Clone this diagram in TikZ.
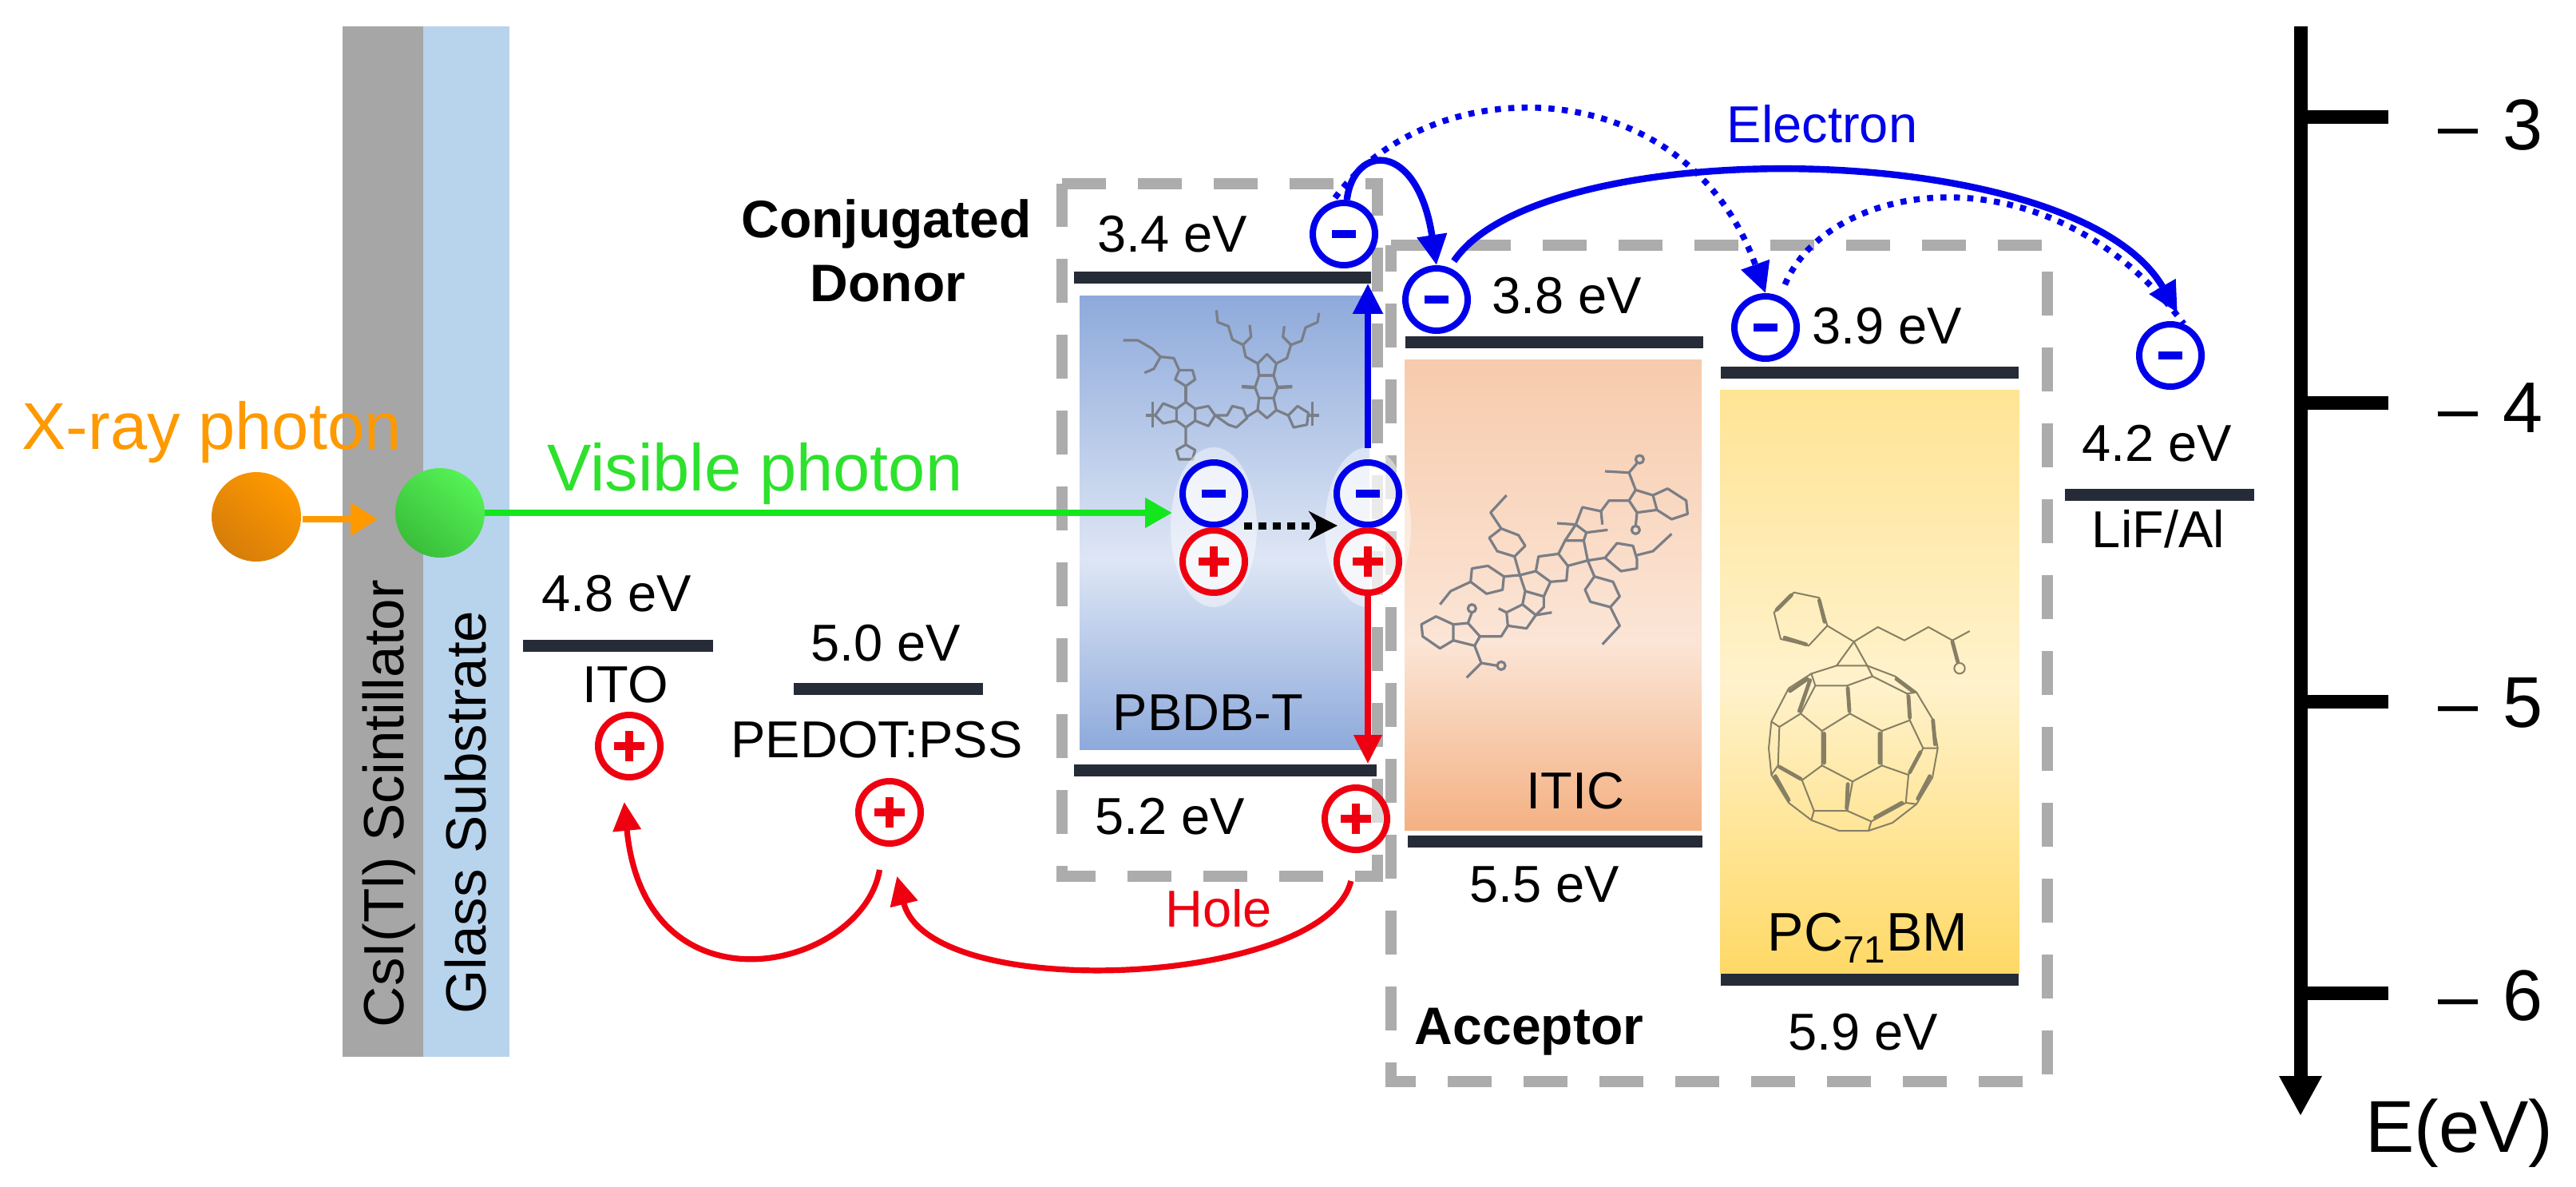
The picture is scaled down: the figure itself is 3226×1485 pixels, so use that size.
\documentclass[tikz,border=0pt]{standalone}
\usepackage{fontspec}
\setmainfont{Liberation Sans}
\usetikzlibrary{arrows.meta}
\definecolor{eblue}{RGB}{0,0,235}
\definecolor{hred}{RGB}{238,0,16}
\definecolor{barc}{RGB}{38,43,56}
\definecolor{dashc}{RGB}{172,172,172}
\definecolor{greenc}{RGB}{20,230,30}
\definecolor{greentext}{RGB}{45,225,45}
\definecolor{orangec}{RGB}{255,153,0}
\definecolor{orangedk}{RGB}{214,125,10}
\definecolor{ballhi}{RGB}{85,242,85}
\definecolor{balllo}{RGB}{58,190,58}
\definecolor{csi}{RGB}{166,166,166}
\definecolor{glass}{RGB}{184,211,236}
\definecolor{molc}{RGB}{122,126,134}
\definecolor{fulc}{RGB}{135,127,100}
\definecolor{c1b}{RGB}{142,170,219}\definecolor{c2b}{RGB}{222,230,245}\definecolor{c3b}{RGB}{142,170,219}
\definecolor{c1p}{RGB}{244,177,131}\definecolor{c2p}{RGB}{251,229,214}\definecolor{c3p}{RGB}{247,203,172}
\definecolor{c1y}{RGB}{255,217,102}\definecolor{c2y}{RGB}{255,242,204}\definecolor{c3y}{RGB}{255,228,148}
\pgfdeclareverticalshading{bluegrad}{100bp}{color(0bp)=(c1b);color(25bp)=(c1b);color(46bp)=(c2b);color(75bp)=(c3b);color(100bp)=(c3b)}
\pgfdeclareverticalshading{peachgrad}{100bp}{color(0bp)=(c1p);color(25bp)=(c1p);color(45bp)=(c2p);color(75bp)=(c3p);color(100bp)=(c3p)}
\pgfdeclareverticalshading{yellowgrad}{100bp}{color(0bp)=(c1y);color(25bp)=(c1y);color(50bp)=(c2y);color(75bp)=(c3y);color(100bp)=(c3y)}
\newcommand{\fs}[1]{\fontsize{#1}{#1}\selectfont}
\newcommand{\minusmark}{\textcolor{eblue}{\rule[-2.5pt]{15pt}{5pt}}}
\newcommand{\plusmark}{\textcolor{hred}{\rlap{\rule[-2.5pt]{19pt}{5pt}}\hspace{7pt}\rule[-9.5pt]{5pt}{19pt}\hspace{7pt}}}
\tikzset{
  lab/.style={inner sep=0pt,font=\fs{32.5}},
  boldlab/.style={inner sep=0pt,font=\fs{33}\bfseries},
  numlab/.style={inner sep=0pt,font=\fs{45},anchor=base west},
  level/.style={fill=barc,inner sep=0pt,minimum height=7.5pt},
  elec/.style={circle,draw=eblue,line width=4pt,minimum size=39pt,inner sep=0pt,fill=white,fill opacity=.55,text opacity=1},
  hole/.style={circle,draw=hred,line width=4pt,minimum size=39pt,inner sep=0pt,fill=white,fill opacity=.55,text opacity=1},
  dashbox/.style={draw=dashc,line width=7pt,dash pattern=on 27.5pt off 20pt},
  eflow/.style={draw=eblue,line width=4.2pt,-{Triangle[length=19pt,width=18pt]}},
  edot/.style={draw=eblue,line width=3.8pt,dash pattern=on 3.8pt off 4.6pt},
  hflow/.style={draw=hred,line width=3.6pt,-{Triangle[length=18pt,width=17pt]}},
  mol/.style={draw=molc,line width=1.6pt,line join=round},
  fulw/.style={draw=fulc,line width=1pt,line join=round},
  fult/.style={draw=fulc,line width=2.4pt,line cap=round},
  tickline/.style={draw=black,line width=8.5pt},
}
\begin{document}
\begin{tikzpicture}[x=.5pt,y=-.5pt]
\useasboundingbox (0,0) rectangle (3226,1485);
% layers
\fill[csi] (429,33) rectangle (530,1323);
\fill[glass] (530,33) rectangle (638,1323);
\node[inner sep=0pt,rotate=90,font=\fs{35.5},anchor=base] (csilab) at (505,1006) {CsI(Tl) Scintillator};
\node[inner sep=0pt,rotate=90,font=\fs{35.5},anchor=base] (glasslab) at (608,1017) {Glass Substrate};
% dashed boxes
\draw[dashbox] (1330,230) -- (1725,230) -- (1725,1097) -- (1330,1097) -- cycle;
\draw[dashbox] (1742,307) -- (2564,307) -- (2564,1354) -- (1742,1354) -- cycle;
% gradient bands
\shade[shading=bluegrad] (1352,370) rectangle (1715,938);
\shade[shading=peachgrad] (1759,450) rectangle (2131,1039);
\shade[shading=yellowgrad] (2154,488) rectangle (2529,1218);
% PBDB-T molecule
\begin{scope}[shift={(1280,180)},x=.16667pt,y=-.16667pt]
\draw[mol] (380,738)--(435,738)--(490,770)--(520,800)--(570,805)--(590,850);
\draw[mol] (520,800)--(495,845)--(460,860);
\draw[mol] (590,850)--(640,850)--(650,885)--(615,910)--(575,885)--cycle;
\draw[mol] (615,910)--(615,970);
\draw[mol] (615,970)--(650,995)--(650,1040)--(615,1065)--(580,1040)--(580,995)--cycle;
\draw[mol] (580,995)--(530,975)--(500,1020)--(530,1050)--(580,1040);
\draw[mol] (465,1020)--(500,1020) (490,970)--(490,1065);
\draw[mol] (650,995)--(700,985)--(725,1020)--(700,1060)--(650,1040);
\draw[mol] (725,1020)--(770,1020)--(790,985)--(830,995)--(845,1030)--(805,1065)--(775,1055)--cycle;
\draw[mol] (845,1025)--(885,1000);
\draw[mol] (615,1065)--(615,1130)--(650,1150)--(640,1185)--(590,1185)--(580,1150)--(615,1130);
\draw[mol] (885,825)--(920,790)--(955,825)--(945,870)--(890,870)--cycle;
\draw[mol] (890,870)--(945,870)--(960,915)--(945,955)--(890,955)--(875,915)--cycle;
\draw[mol] (890,955)--(945,955)--(955,1000)--(920,1030)--(885,1000)--cycle;
\draw[mol,line width=2.2pt] (875,915)--(825,912) (960,915)--(1015,912);
\draw[mol] (955,1000)--(1000,1020)--(1035,985)--(1075,1010)--(1070,1055)--(1020,1065)--(1000,1020);
\draw[mol] (1075,1020)--(1115,1020) (1090,970)--(1090,1060);
\draw[mol] (885,825)--(840,800)--(830,755)--(790,735)--(775,685)--(735,670)--(730,625);
\draw[mol] (830,755)--(860,725)--(855,680);
\draw[mol] (955,825)--(995,805)--(1010,755)--(1050,740)--(1065,690)--(1110,670)--(1115,635);
\draw[mol] (1010,755)--(980,725)--(985,685);
\end{scope}
% ITIC molecule
\begin{scope}[shift={(1720,400)},x=.16667pt,y=-.16667pt]
\draw[mol] (180,1145)--(235,1115)--(300,1145)--(300,1205)--(250,1235)--(185,1190)--cycle;
\draw[mol] (300,1145)--(355,1140)--(400,1190)--(380,1225)--(300,1205);
\draw[mol] (355,1140)--(370,1100); \draw[mol] (370,1085) circle (15);
\draw[mol] (380,1225)--(405,1290)--(465,1300) (405,1290)--(350,1345); \draw[mol] (480,1300) circle (15);
\draw[mol] (400,1190)--(480,1190)--(505,1150);
\draw[mol] (505,1150)--(500,1100)--(560,1070)--(610,1110)--(575,1160)--cycle;
\draw[mol] (500,1100)--(470,1085) (610,1110)--(670,1100);
\draw[mol] (560,1070)--(570,1020)--(640,1040)--(640,1080)--(610,1110);
\draw[mol] (570,1020)--(550,960)--(610,945)--(665,985)--(640,1040);
\draw[mol] (610,945)--(620,890)--(695,880)--(730,925)--(725,980)--(665,985);
\draw[mol] (695,880)--(720,830)--(790,830)--(805,905)--(730,925);
\draw[mol] (720,830)--(760,770)--(800,800)--(790,830);
\draw[mol] (760,770)--(690,765) (800,800)--(880,790);
\draw[mol] (760,770)--(785,705)--(855,720)--(860,770);
\draw[mol] (855,720)--(885,680)--(960,680);
\draw[mol] (960,680)--(985,640)--(1050,660)--(1065,715)--(990,725)--cycle;
\draw[mol] (1050,660)--(1105,635)--(1175,680)--(1180,730)--(1120,750)--(1065,715);
\draw[mol] (990,725)--(985,775) (985,640)--(960,575)--(990,540) (960,575)--(870,570); \draw[mol] (985,790) circle (15); \draw[mol] (1000,525) circle (15);
\draw[mol] (550,960)--(530,890)--(570,850)--(545,810)--(480,785)--(435,820)--(465,870)--(530,890);
\draw[mol] (480,785)--(440,725)--(500,660);
\draw[mol] (550,960)--(490,965)--(430,925)--(370,935)--(365,985)--(425,1030)--(485,1015)--(490,965);
\draw[mol] (365,985)--(290,1020)--(250,1070);
\draw[mol] (805,905)--(870,895)--(915,840)--(975,850)--(990,900)--(990,935)--(930,945)--(870,895);
\draw[mol] (990,885)--(1050,870)--(1120,805);
\draw[mol] (805,905)--(830,965)--(795,1015)--(815,1060)--(890,1080)--(925,1040)--(900,985)--(830,965);
\draw[mol] (890,1080)--(925,1150)--(860,1220);
\end{scope}
% PC71BM molecule
\begin{scope}[shift={(2150,680)},x=.16667pt,y=-.16667pt]
\draw[fulw] (215,260)--(290,185)--(385,205)--(415,310)--(345,385)--(240,360)--cycle;
\draw[fult] (225,250)--(280,195) (385,215)--(405,295) (255,355)--(335,380);
\draw[fulw] (415,310)--(515,370)--(605,315)--(705,365)--(795,315)--(885,365)--(950,330);
\draw[fult] (885,370)--(905,445); \draw[fulw] (912,470) circle (20);
\draw[fulw] (515,370)--(450,460)--(565,460)--cycle;
\draw[fulw] (450,460)--(355,490)--(270,545)--(205,670)--(195,770)--(205,870)--(270,975)--(355,1040)--(460,1080)--(570,1080)--(660,1050)--(750,980)--(810,880)--(830,770)--(810,660)--(750,560)--(670,500)--(565,460);
\draw[fulw] (355,490)--(370,535)--(315,640)--(235,690)--(205,670);
\draw[fulw] (370,535)--(490,535)--(500,640)--(395,705)--(315,640);
\draw[fulw] (490,535)--(585,500)--(565,460);
\draw[fulw] (585,500)--(715,565)--(725,665)--(620,705)--(500,640);
\draw[fulw] (715,565)--(750,560);
\draw[fulw] (725,665)--(775,770)--(720,870)--(620,835)--(620,705);
\draw[fulw] (395,705)--(395,835)--(510,895)--(620,835);
\draw[fulw] (395,835)--(320,890)--(230,835)--(235,690);
\draw[fulw] (230,835)--(205,870);
\draw[fulw] (320,890)--(365,1005)--(490,1005)--(510,895);
\draw[fulw] (365,1005)--(355,1040);
\draw[fulw] (490,1005)--(580,1045)--(710,975)--(720,870);
\draw[fulw] (580,1045)--(570,1080) (710,975)--(750,980) (775,770)--(830,770);
\draw[fult] (403,715)--(403,825) (612,715)--(612,825) (492,545)--(498,630) (492,905)--(488,995) (350,515)--(310,630) (720,575)--(725,655) (765,785)--(725,860) (235,840)--(315,885) (812,665)--(820,755) (800,875)--(755,960) (595,1030)--(695,975) (220,875)--(270,965) (275,555)--(340,510) (675,510)--(735,555);
\end{scope}
% levels
\node[level,minimum width=186pt] (b34) at (1531,347) {};
\node[level,minimum width=186.5pt] (b38) at (1946,428) {};
\node[level,minimum width=186.5pt] (b39) at (2341,466) {};
\node[level,minimum width=118.5pt] (b42) at (2704,619) {};
\node[level,minimum width=119pt] (b48) at (774,808) {};
\node[level,minimum width=118.5pt] (b50) at (1112,862) {};
\node[level,minimum width=189.5pt] (b52) at (1534,964) {};
\node[level,minimum width=184.5pt] (b55) at (1947,1053) {};
\node[level,minimum width=186.5pt] (b59) at (2341,1226) {};
% halos
\fill[white,opacity=.45] (1520,660) ellipse (27pt and 50pt);
\fill[white,opacity=.45] (1713,660) ellipse (27pt and 50pt);
% particles
\node[circle,minimum size=56pt,inner sep=0pt,shade,shading=axis,top color=orangec,bottom color=orangedk,shading angle=-40] (oball) at (321,647) {};
\node[circle,minimum size=56pt,inner sep=0pt,shade,shading=axis,top color=ballhi,bottom color=balllo,shading angle=-40] (gball) at (551,642) {};
\node[elec] (e34) at (1683,293) {\minusmark};
\node[elec] (eM) at (1520,618) {\minusmark};
\node[elec] (eR) at (1713,618) {\minusmark};
\node[hole] (hM) at (1520,703) {\plusmark};
\node[hole] (hR) at (1713,703) {\plusmark};
\node[elec] (e38) at (1799,375) {\minusmark};
\node[elec] (e39) at (2211,410) {\minusmark};
\node[elec] (e42) at (2718,445) {\minusmark};
\node[hole] (hITO) at (788,934) {\plusmark};
\node[hole] (hPED) at (1114,1017) {\plusmark};
\node[hole] (h52) at (1698,1025) {\plusmark};
% photon arrows
\coordinate (oarrow) at (379,650);
\coordinate (oend) at (473,650);
\draw[draw=orangec,line width=4pt,-{Triangle[length=17pt,width=20pt]}] (oarrow) -- (oend);
\coordinate (gtip) at (1468,642);
\draw[draw=greenc,line width=4pt,-{Triangle[length=17pt,width=18pt]}] (gball.east) -- (gtip);
% exciton arrows
\draw[eflow,shorten <=7pt] (eR.north) -- (eR.north |- b34.south);
\draw[hflow] (hR.south) -- (hR.south |- b52.north);
\coordinate (dot1) at (1558,658);
\coordinate (dot2) at (1675,658);
\draw[black,line width=4.5pt,dash pattern=on 5pt off 4pt,-{Stealth[length=18pt,width=18pt]}] (dot1) -- (dot2);
% electron transport
\draw[edot,-{Triangle[length=19pt,width=18pt,sep=0pt]},shorten <=3pt] (e34.110) .. controls (1790,85) and (2110,85) .. (e39.north);
\draw[edot,shorten <=8pt] (e39.65) .. controls (2290,225) and (2565,180) .. (e42.67);
\draw[eflow] (e34.85) .. controls (1695,180) and (1775,175) .. (e38.north);
\draw[eflow,shorten <=5pt,shorten >=8pt] (e38.68) .. controls (1930,165) and (2600,170) .. (e42.67);
% hole transport
\draw[hflow,shorten <=15pt,shorten >=14pt] (hPED.260) .. controls (1080,1215) and (808,1278) .. (hITO.258);
\draw[hflow,shorten <=18pt,shorten >=19pt] (h52.273) .. controls (1660,1235) and (1164,1258) .. (hPED.270);
% axis
\coordinate (axtop) at (2881,33);
\coordinate (axbot) at (2881,1397);
\draw[line width=8.5pt,-{Triangle[length=25pt,width=25pt]}] (axtop) -- (axbot);
\coordinate (t3) at (2991,146); \coordinate (t4) at (2991,504); \coordinate (t5) at (2991,878); \coordinate (t6) at (2991,1243);
\draw[tickline] (axtop |- t3) -- (t3);
\draw[tickline] (axtop |- t4) -- (t4);
\draw[tickline] (axtop |- t5) -- (t5);
\draw[tickline] (axtop |- t6) -- (t6);
\node[numlab] (l3) at (3053,187) {– \kern3pt 3};
\node[numlab] (l4) at (3053,541) {– \kern3pt 4};
\node[numlab] (l5) at (3053,910) {– \kern3pt 5};
\node[numlab] (l6) at (3053,1277) {– \kern3pt 6};
\node[inner sep=0pt,font=\fs{46},anchor=base] (lE) at (3080,1442) {E(eV)};
% labels
\node[lab] (t34) at (1468,293) {3.4 eV};
\node[lab] (t38) at (1962,370) {3.8 eV};
\node[lab] (t39) at (2363,408) {3.9 eV};
\node[lab] (t42) at (2701,555) {4.2 eV};
\node[lab] (t48) at (772,743) {4.8 eV};
\node[lab] (t50) at (1109,805) {5.0 eV};
\node[lab] (t52) at (1465,1022) {5.2 eV};
\node[lab] (t55) at (1934,1107) {5.5 eV};
\node[lab] (t59) at (2333,1292) {5.9 eV};
\node[lab] (tITO) at (783,857) {ITO};
\node[lab] (tPED) at (1098,926) {PEDOT:PSS};
\node[lab] (tLiF) at (2703,662) {LiF/Al};
\node[lab] (tPBDB) at (1513,892) {PBDB-T};
\node[lab] (tITIC) at (1973,990) {ITIC};
\node[lab,anchor=base,font=\fs{34}] (tPC) at (2339,1190) {PC\textsubscript{71}BM};
\node[boldlab,anchor=base] (tconj) at (1110,297) {Conjugated};
\node[boldlab,anchor=base] (tdon) at (1112,377) {Donor};
\node[boldlab] (tacc) at (1915,1292) {Acceptor};
\node[lab,text=eblue] (tel) at (2282,155) {Electron};
\node[lab,text=hred] (thole) at (1526,1137) {Hole};
\node[inner sep=0pt,font=\fs{41.5},text=orangec,anchor=base west] (txray) at (27,562) {X-ray photon};
\node[inner sep=0pt,font=\fs{41.5},text=greentext,anchor=base west] (tvis) at (685,614) {Visible photon};
\end{tikzpicture}
\end{document}
